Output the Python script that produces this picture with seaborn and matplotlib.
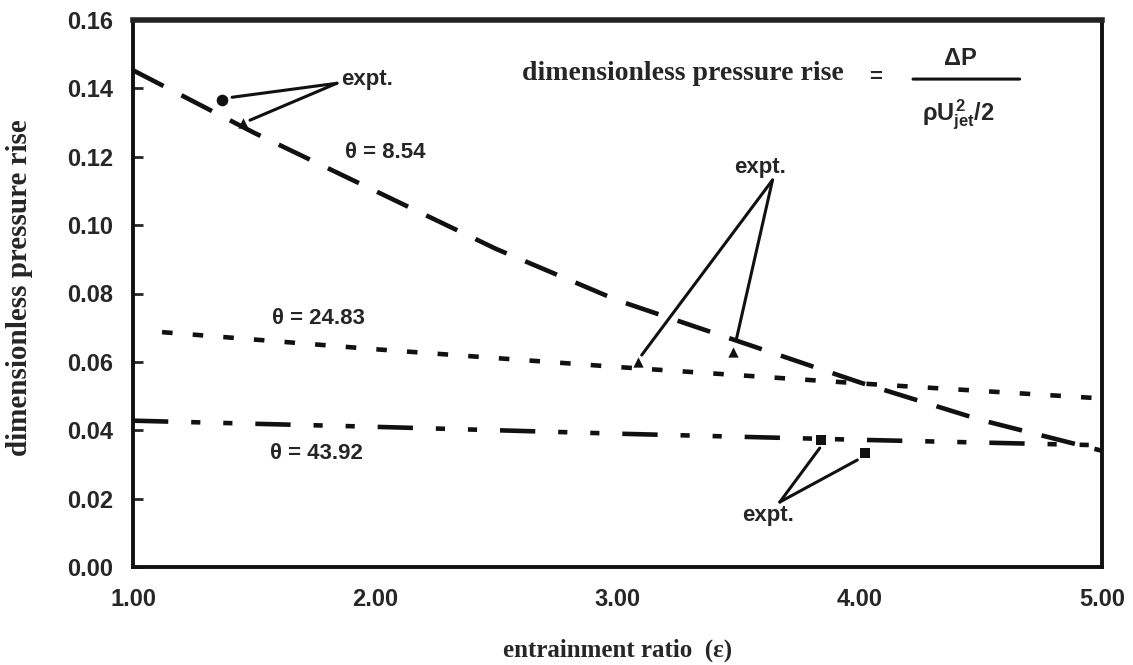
import matplotlib
matplotlib.use("Agg")
import matplotlib.pyplot as plt
import seaborn as sns
import numpy as np

# theory curves: entrainment ratio vs dimensionless pressure rise
eps_854 = [1.0, 1.5, 2.0, 2.5, 3.0, 3.5, 4.0, 4.5, 5.0]
dp_854 = [0.1453, 0.127, 0.110, 0.093, 0.078, 0.066, 0.054, 0.043, 0.034]

eps_2483 = [1.12, 2.0, 3.0, 4.0, 5.0]
dp_2483 = [0.0687, 0.0637, 0.0585, 0.0537, 0.0493]

eps_4392 = [1.0, 2.0, 3.0, 4.0, 5.0]
dp_4392 = [0.0428, 0.0410, 0.0390, 0.0372, 0.0356]

# experimental points
circ_x = [1.367]
circ_y = [0.1365]
tri_x = [1.454, 3.084, 3.476]
tri_y = [0.1300, 0.0599, 0.0629]
sq_x = [3.84, 4.02]
sq_y = [0.0371, 0.0334]

xticks = [1.0, 2.0, 3.0, 4.0, 5.0]
xlabels = ["1.00", "2.00", "3.00", "4.00", "5.00"]
yticks = [0.0, 0.02, 0.04, 0.06, 0.08, 0.10, 0.12, 0.14, 0.16]
ylabels = ["0.00", "0.02", "0.04", "0.06", "0.08", "0.10", "0.12", "0.14", "0.16"]

sns.set_style("white")
plt.rcParams["font.family"] = ["Liberation Sans", "DejaVu Sans"]
plt.rcParams["mathtext.fontset"] = "custom"
plt.rcParams["mathtext.rm"] = "Liberation Sans:bold"
plt.rcParams["mathtext.it"] = "Liberation Sans:bold"
plt.rcParams["mathtext.bf"] = "Liberation Sans:bold"

fig = plt.figure(figsize=(11.33, 6.65), dpi=100)
ax = fig.add_axes([133 / 1133, 1 - 567 / 665, 969 / 1133, 547 / 665])

lw = 3.3
sns.lineplot(x=eps_854, y=dp_854, ax=ax, color="#111111", lw=lw,
             linestyle=(0, (7.5, 4.4)), estimator=None, sort=False)
sns.lineplot(x=eps_2483, y=dp_2483, ax=ax, color="#111111", lw=lw,
             linestyle=(0, (2.3, 4.4)), estimator=None, sort=False)
sns.lineplot(x=eps_4392, y=dp_4392, ax=ax, color="#111111", lw=lw,
             linestyle=(0, (7.7, 5.0, 2.0, 5.0, 2.0, 5.0)), estimator=None, sort=False)

sns.scatterplot(x=circ_x, y=circ_y, ax=ax, color="#111111", marker="o", s=70, linewidth=0, zorder=5)
sns.scatterplot(x=tri_x, y=tri_y, ax=ax, color="#111111", marker="^", s=55, linewidth=0, zorder=5)
sns.scatterplot(x=sq_x, y=sq_y, ax=ax, color="#111111", marker="s", s=60, linewidth=0, zorder=5)

ax.set_xlim(1.0, 5.0)
ax.set_ylim(0.0, 0.16)
ax.set_xticks(xticks)
ax.set_xticklabels(xlabels, fontsize=17, fontweight="bold")
ax.set_yticks(yticks)
ax.set_yticklabels(ylabels, fontsize=17, fontweight="bold")
ax.tick_params(axis="y", direction="in", length=7, width=2, pad=14, left=True)
ax.tick_params(axis="x", length=0, pad=15)

for side in ["left", "right", "bottom"]:
    ax.spines[side].set_linewidth(2.8)
    ax.spines[side].set_color("#111111")
ax.spines["top"].set_linewidth(4)
ax.spines["top"].set_color("#222222")

serif = ["Liberation Serif", "DejaVu Serif"]
ax.set_xlabel("entrainment ratio  (ε)", fontsize=18, fontweight="bold", family=serif)
ax.set_ylabel("dimensionless pressure rise", fontsize=21, fontweight="bold", family=serif)
ax.xaxis.set_label_coords(0.5, -0.13)
ax.yaxis.set_label_coords(-0.103, 0.51)

# curve labels
ax.text(1.875, 0.1213, "θ = 8.54", fontsize=16, fontweight="bold", va="center")
ax.text(1.574, 0.0728, "θ = 24.83", fontsize=16, fontweight="bold", va="center")
ax.text(1.566, 0.0333, "θ = 43.92", fontsize=16, fontweight="bold", va="center")

# "expt." call-outs
line_kw = dict(arrowstyle="-", lw=2.2, color="#111111", shrinkA=0, shrinkB=0)
ax.text(1.86, 0.1426, "expt.", fontsize=16, fontweight="bold", va="center")
ax.annotate("", xy=(1.409, 0.1374), xytext=(1.842, 0.1415), arrowprops=line_kw)
ax.annotate("", xy=(1.483, 0.1307), xytext=(1.842, 0.1415), arrowprops=line_kw)

ax.text(3.588, 0.117, "expt.", fontsize=16, fontweight="bold", ha="center", va="center")
ax.annotate("", xy=(3.10, 0.0620), xytext=(3.64, 0.1132), arrowprops=line_kw)
ax.annotate("", xy=(3.49, 0.0664), xytext=(3.64, 0.1132), arrowprops=line_kw)

ax.text(3.62, 0.0150, "expt.", fontsize=16, fontweight="bold", ha="center", va="center")
ax.annotate("", xy=(3.835, 0.0348), xytext=(3.67, 0.0190), arrowprops=line_kw)
ax.annotate("", xy=(3.99, 0.0313), xytext=(3.67, 0.0190), arrowprops=line_kw)

# definition of the y quantity
ax.text(0.4014, 0.903, "dimensionless pressure rise", transform=ax.transAxes,
        fontsize=20, fontweight="bold", family=serif, va="center")
ax.text(0.766, 0.894, "=", transform=ax.transAxes, fontsize=16, fontweight="bold",
        ha="center", va="center")
ax.text(0.8535, 0.9305, "ΔP", transform=ax.transAxes, fontsize=17, fontweight="bold",
        ha="center", va="center")
ax.annotate("", xy=(0.915, 0.892), xytext=(0.805, 0.892), xycoords="axes fraction",
            textcoords="axes fraction", arrowprops=dict(arrowstyle="-", lw=2.2, color="#111111",
                                                         shrinkA=0, shrinkB=0))
ax.text(0.852, 0.826, r"$\rho U_{jet}^{2}/2$", transform=ax.transAxes, fontsize=17,
        ha="center", va="center")

fig.savefig("out.png", dpi=100)
